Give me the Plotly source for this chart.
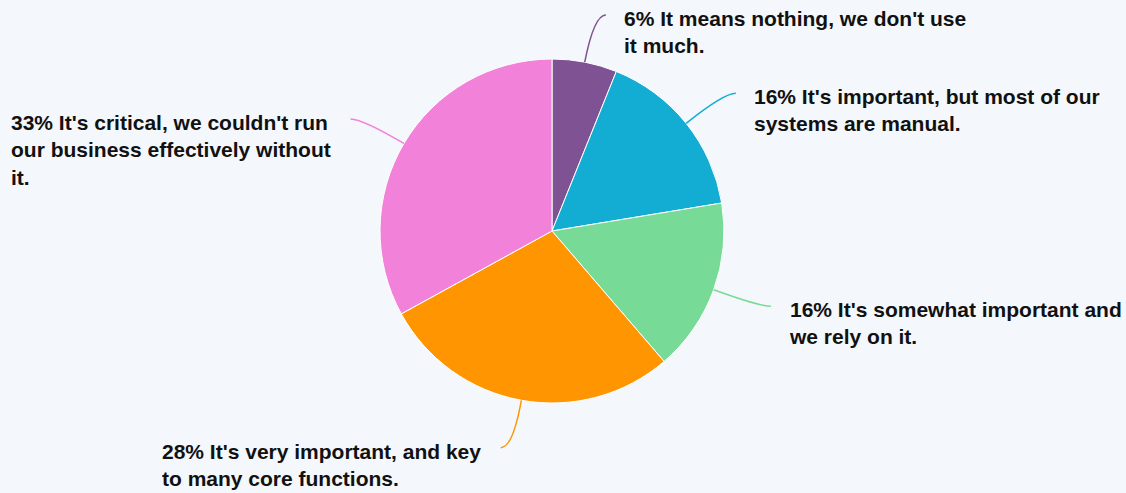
import math
import plotly.graph_objects as go

# ---- data ----
labels = [
    "It means nothing, we don't use it much.",
    "It's important, but most of our systems are manual.",
    "It's somewhat important and we rely on it.",
    "It's very important, and key to many core functions.",
    "It's critical, we couldn't run our business effectively without it.",
]
values = [6.1, 16.3, 16.3, 28.3, 33.0]
pct_text = ["6%", "16%", "16%", "28%", "33%"]
wrapped = [
    "6% It means nothing, we don't use<br>it much.",
    "16% It's important, but most of our<br>systems are manual.",
    "16% It's somewhat important and<br>we rely on it.",
    "28% It's very important, and key<br>to many core functions.",
    "33% It's critical, we couldn't run<br>our business effectively without<br>it.",
]
colors = ["#7F5293", "#13ADD4", "#78DA97", "#FF9500", "#F282D9"]

# ---- layout geometry ----
W, H = 1126, 493
CX, CY, R = 552, 231, 172
BG = "#F4F7FB"
FONT = "Liberation Sans, Arial, sans-serif"

def px(x):
    return x / W

def py(y):
    return 1 - y / H

fig = go.Figure()
fig.add_trace(go.Pie(
    labels=labels,
    values=values,
    sort=False,
    direction="clockwise",
    rotation=0,
    textinfo="none",
    hoverinfo="label+percent",
    marker=dict(colors=colors, line=dict(color="#FFFFFF", width=1)),
    domain=dict(x=[px(CX - R), px(CX + R)], y=[py(CY + R), py(CY - R)]),
    showlegend=False,
))

shapes = []
annotations = []
total = sum(values)
cum = 0.0
for i, v in enumerate(values):
    mid = (cum + v / 2) / total * 2 * math.pi
    cum += v
    sx, sy = math.sin(mid), -math.cos(mid)
    x0, y0 = CX + R * sx, CY + R * sy
    x1, y1 = CX + 1.28 * R * sx, CY + 1.28 * R * sy
    side = 1 if sx >= 0 else -1
    x2, y2 = x1 + side * 12, y1
    path = "M {:.4f},{:.4f} Q {:.4f},{:.4f} {:.4f},{:.4f}".format(
        px(x0), py(y0), px(x1), py(y1), px(x2), py(y2))
    shapes.append(dict(type="path", xref="paper", yref="paper", path=path,
                       line=dict(color=colors[i], width=1.5)))
    font = dict(family=FONT, size=21, color="#111111", weight="bold")
    if side > 0:
        annotations.append(dict(
            x=px(x2 + 16), y=py(y2 - 10), xref="paper", yref="paper",
            xanchor="left", yanchor="top", align="left", showarrow=False,
            text=wrapped[i], font=font))
    else:
        annotations.append(dict(
            x=px(x2 - 15), y=py(y2 - 10), xref="paper", yref="paper",
            xanchor="right", yanchor="top", align="left", showarrow=False, width=322,
            text=wrapped[i], font=font))

fig.update_layout(
    width=W, height=H,
    margin=dict(l=0, r=0, t=0, b=0),
    paper_bgcolor=BG, plot_bgcolor=BG,
    shapes=shapes, annotations=annotations,
)

fig.write_html("out.html")
